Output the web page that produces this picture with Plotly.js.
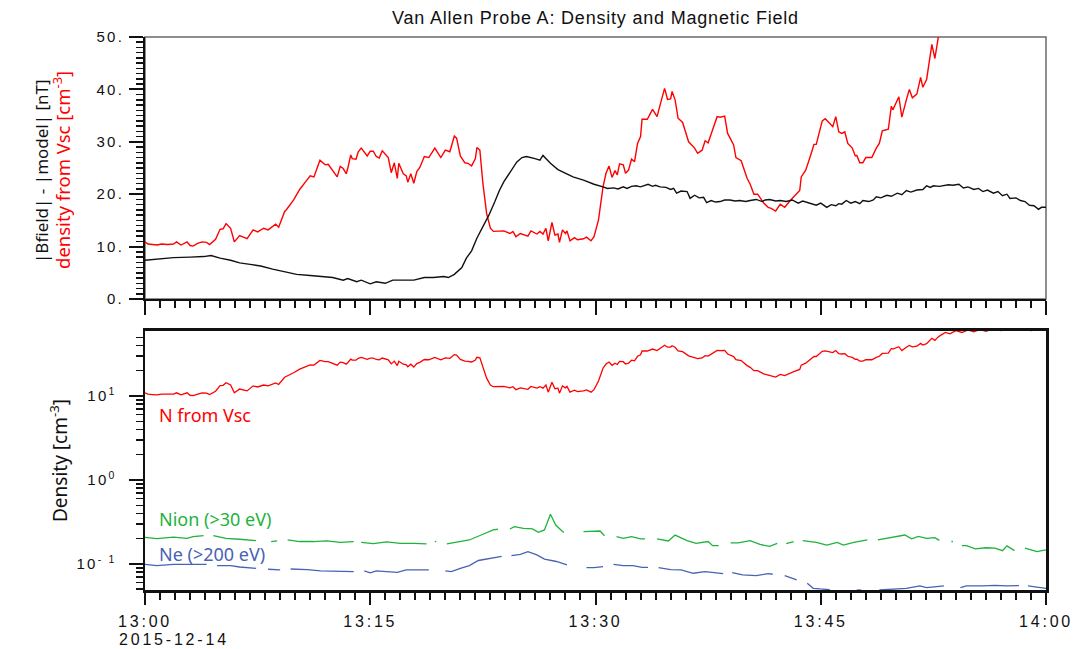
<!DOCTYPE html>
<html><head><meta charset="utf-8">
<script src="https://cdn.plot.ly/plotly-3.0.1.min.js"></script>
<style>
html,body{margin:0;padding:0;background:#fff;}
#chart{width:1087px;height:649px;}
.xtick text, .x2tick text {letter-spacing:2.8px;}
.ytick text, .y2tick text {letter-spacing:2.2px;}
</style></head><body><div id="chart"></div><script>
// minutes after 13:00 UT, 2015-12-14
var tDensity = [0,0.2,0.5,0.8,1.1,1.5,1.9,2.1,2.4,2.8,3.0,3.2,3.5,3.8,4.1,4.3,4.7,5.0,5.2,5.4,5.7,5.95,6.3,6.8,7.2,7.5,7.9,8.2,8.7,8.9,9.3,9.4,9.9,10.3,10.65,11.0,11.25,11.65,12.0,12.2,12.8,13.0,13.2,13.4,13.5,13.7,13.8,14.05,14.2,14.4,14.8,15.0,15.2,15.4,15.6,15.8,16.2,16.4,16.6,16.8,16.9,17.2,17.4,17.5,17.7,17.9,18.1,18.3,18.6,18.9,19.3,19.7,20.0,20.3,20.6,20.75,21.0,21.3,21.5,21.75,22.0,22.1,22.3,22.5,22.75,23.0,23.2,23.9,24.3,24.5,24.7,25.0,25.5,25.7,26.1,26.3,26.5,26.7,26.85,27.1,27.3,27.5,27.6,27.8,28.0,28.1,28.3,28.6,28.8,29.2,29.4,29.7,29.9,30.2,30.5,30.7,30.9,31.1,31.3,31.45,31.6,31.85,32.0,32.2,32.4,32.6,32.8,33.0,33.1,33.45,33.8,34.1,34.3,34.6,34.8,35.0,35.1,35.3,35.5,35.8,36.2,36.6,36.8,37.1,37.3,37.5,37.8,38.1,38.3,38.6,38.8,39.2,39.35,39.7,40.1,40.3,40.55,40.8,41.2,41.5,41.7,42.0,42.3,42.6,43.0,43.2,43.6,43.7,44.0,44.3,44.55,44.7,45.1,45.3,45.6,45.8,46.0,46.2,46.4,46.6,46.8,47.1,47.3,47.4,47.6,47.8,48.0,48.4,48.7,48.9,49.1,49.5,49.7,49.8,50.2,50.4,50.7,50.9,51.1,51.4,51.65,51.8,52.05,52.2,52.4,52.6,52.8,53.0,53.3,53.6,54.0,54.4,54.8,55.2,55.6,56.0,56.5,57.0,57.5,58.0,58.5,59.0,59.5,60.0];
var nVsc = [10.9,10.5,10.4,10.3,10.5,10.4,10.5,10.9,10.3,10.9,10.2,10.1,10.6,10.9,10.8,10.4,11.4,13.3,13.4,14.4,13.5,10.9,12.1,11.5,13.2,12.8,13.5,13.2,14.3,13.7,16.7,17.0,18.9,20.9,22.2,23.5,23.3,26.5,25.6,25.7,23.3,25.3,24.9,23.9,24.9,27.5,26.8,26.7,28.1,28.8,27.3,28.2,28.2,27.2,26.9,28.3,27.0,24.1,26.0,23.0,25.9,23.9,23.5,22.3,23.9,22.1,24.3,25.1,27.2,27.0,28.8,27.0,28.4,28.1,31.1,30.7,27.3,26.0,25.9,25.4,26.8,28.9,28.4,22.1,16.3,13.5,12.9,13.0,12.5,12.9,11.9,12.5,12.0,13.0,12.4,12.9,12.4,13.5,11.1,14.6,12.2,12.4,10.8,13.2,12.5,13.0,11.1,11.7,11.3,11.5,11.8,11.1,11.9,15.1,21.4,24.0,25.4,23.2,24.5,23.7,25.8,25.6,24.0,24.6,26.7,26.2,29.7,31.0,34.3,34.3,36.2,34.8,37.0,40.2,38.1,38.2,39.6,38.0,34.5,33.7,30.0,28.8,27.8,28.4,30.2,29.8,32.3,34.8,34.7,34.9,31.6,29.4,27.0,26.4,23.0,21.9,20.0,20.0,18.3,17.5,17.3,16.8,18.1,17.5,18.9,19.5,20.7,23.3,24.6,27.2,29.5,29.5,34.0,34.4,33.5,32.9,34.8,31.9,31.6,31.9,29.7,28.8,27.3,27.4,26.0,26.0,27.0,27.0,28.8,29.7,32.1,32.4,36.8,36.1,38.6,34.7,38.0,40.0,38.4,39.1,42.3,40.4,41.9,44.7,48.6,45.9,50.2,53,57,55,60,57,61,58,62,59,63,60,64,61,63,60,62,61];

var tBfield = [0,0.7,1.9,3.0,3.9,4.4,5.0,5.7,6.3,7.0,7.7,8.5,9.2,10.1,11.0,11.65,12.5,13.2,13.5,14.1,14.4,15.0,15.4,16.0,16.5,17.2,17.9,18.6,19.2,19.9,20.2,20.6,21.1,21.4,21.75,22.1,22.4,22.9,23.3,23.6,23.9,24.3,24.75,25.1,25.4,25.97,26.3,26.5,27.0,27.5,28.1,28.5,29.2,29.9,30.5,30.8,31.2,31.5,31.85,32.1,32.4,32.7,33.0,33.5,33.8,34.0,34.3,34.7,35.0,35.2,35.4,35.7,36.1,36.3,36.6,36.9,37.2,37.4,37.7,38.0,38.3,38.6,38.95,39.3,39.6,40.0,40.3,40.7,41.1,41.3,41.6,42.0,42.3,42.7,43.1,43.5,43.8,44.1,44.4,44.7,45.0,45.4,45.7,46.0,46.2,46.4,46.7,47.0,47.3,47.6,47.8,48.2,48.5,48.7,49.0,49.4,49.7,50.1,50.4,50.7,51.0,51.4,51.8,52.05,52.3,52.5,52.9,53.2,53.5,53.8,54.2,54.5,54.8,55.2,55.5,55.8,56.1,56.5,56.8,57.1,57.4,57.6,58.0,58.3,58.6,58.9,59.2,59.5,59.7,60];
var dB = [7.4,7.6,7.9,8.0,8.1,8.3,7.8,7.4,6.9,6.6,6.3,5.7,5.2,4.7,4.5,4.3,4.1,3.6,3.9,3.3,3.6,2.9,3.3,3.0,3.6,3.6,3.6,4.1,4.1,4.3,4.1,4.7,6.0,7.8,9.2,11.6,13.3,16.0,18.6,20.7,22.4,24.1,26.1,27.0,27.2,26.8,26.5,27.4,25.9,24.7,23.9,23.3,22.7,21.9,21.4,21.1,21.2,21.0,21.4,21.1,21.5,21.6,21.4,21.9,21.5,21.7,21.4,21.3,20.9,21.1,20.2,20.6,20.5,19.2,19.8,19.3,19.4,18.4,18.8,18.5,18.6,18.9,18.9,18.7,18.8,18.6,18.8,19.0,18.6,18.9,19.0,18.7,18.8,18.6,18.9,18.3,18.7,18.4,18.1,17.9,18.3,17.5,18.0,17.8,18.2,18.1,18.8,18.3,18.6,18.2,18.8,18.6,18.9,19.5,19.3,19.8,19.6,20.2,19.9,20.7,20.4,20.8,20.9,21.6,21.3,21.6,21.5,21.6,21.8,21.7,21.9,21.2,21.4,20.9,21.1,20.5,20.8,20.2,20.5,19.7,20.0,19.2,19.3,18.8,18.6,17.9,17.8,17.1,17.5,17.5];

var tNion = [0,0.78,1.9,2.8,3.2,3.9,4.2,4.55,5.4,6.3,7.4,7.9,8.4,8.8,9.1,9.5,10.3,11.2,12.1,13.0,13.9,14.1,14.4,15.2,16.1,17.0,17.9,18.75,19.0,19.3,19.4,19.7,20.1,21.0,21.6,22.5,23.2,23.5,23.9,24.3,24.6,25.2,25.8,26.2,26.6,27.0,27.35,27.8,27.9,28.5,29.2,29.8,30.3,30.6,31.0,31.4,31.85,32.4,33.0,33.3,33.7,34.1,34.85,35.3,36.1,36.7,37.5,37.8,38.2,38.6,39.0,39.5,40.3,40.95,41.6,42.1,42.4,42.7,43.2,43.5,43.8,44.7,45.4,46.1,46.5,47.2,48.1,48.4,48.8,49.6,50.6,51.05,51.5,52.05,52.6,52.9,53.3,53.7,53.8,54.1,54.4,54.7,55.3,56.0,56.6,57.1,57.4,57.9,58.2,58.6,59.4,59.9,60];
var nIon = [0.207,0.200,0.209,0.202,0.211,0.217,null,0.217,0.202,0.197,0.190,null,0.185,0.188,null,0.193,0.185,0.185,0.188,0.181,0.185,null,0.181,0.175,0.183,0.176,0.176,0.173,null,0.185,0.185,null,0.173,0.185,0.193,0.226,0.254,0.259,null,0.261,0.278,0.266,0.261,0.238,0.254,0.390,0.291,0.243,0.238,null,0.243,0.247,0.247,0.217,null,0.211,0.202,0.211,0.199,0.199,null,0.199,0.188,0.221,0.190,0.176,0.185,0.165,0.165,null,0.178,0.178,0.190,0.171,0.162,0.176,null,0.175,0.185,null,0.190,0.181,0.168,0.181,0.168,0.181,0.193,null,0.193,0.206,0.221,0.199,0.213,0.202,0.206,0.191,null,0.185,0.185,null,0.165,0.165,0.151,0.156,0.154,0.144,0.164,0.144,null,0.154,0.140,0.146,0.146];

var tNe = [0,0.8,1.9,3.0,4.1,4.4,4.8,5.7,6.3,7.4,7.8,8.2,9.0,9.3,9.7,10.8,11.7,12.5,13.2,13.9,14.2,14.6,15.0,15.4,16.1,16.8,17.4,18.1,18.9,19.4,20.0,20.4,21.0,21.6,22.2,23.0,23.75,24.1,24.4,25.0,25.5,26.1,26.6,27.4,28.1,28.6,29.4,29.9,30.5,30.8,31.2,31.85,32.5,33.1,33.5,33.9,34.2,35.0,35.7,36.5,37.3,38.0,38.5,38.8,39.1,39.8,40.7,41.5,41.8,42.2,42.6,43.4,43.8,44.1,44.5,44.95,45.6,46.2,47.4,47.7,48.0,48.9,50.7,51.6,52.05,53.2,53.6,54.3,54.7,55.8,56.6,57.4,58.2,58.6,58.8,59.9,60];
var nE = [0.0991,0.0955,0.0991,0.0991,0.0991,null,0.0955,0.0955,0.0920,0.0887,null,0.0865,0.0849,null,0.0871,0.0857,0.0826,0.0826,0.0826,0.0811,null,0.0826,0.0782,0.0826,0.0811,0.0796,0.0849,0.0849,0.0849,null,0.0826,0.0811,0.0887,0.0955,0.110,0.117,0.123,null,0.126,0.130,0.140,0.128,0.114,0.107,0.0973,null,0.0904,0.0904,0.0929,null,0.0991,0.0955,0.0955,0.0912,0.0912,null,0.0904,0.0857,0.0849,0.0775,0.0811,0.0789,0.0767,null,0.0789,0.0740,0.0727,0.0767,0.0754,null,0.0727,0.0645,null,0.0589,0.0513,0.0504,0.0495,null,0.049,0.049,null,0.049,0.0513,0.0547,0.0523,0.0547,null,0.0523,0.0547,0.0547,0.0557,0.0547,0.0552,null,0.0547,0.0513,0.0513];

var timeTicks = [0,15,30,45,60];
var timeLabels = ['13:00','13:15','13:30','13:45','14:00'];
var dateLabel = '2015-12-14';
var topTicks = [0,10,20,30,40,50];
var topLabels = ['0.','10.','20.','30.','40.','50.'];
var logTicks = [0.1,1,10];
var logLabels = ['10<sup>- 1</sup>','10<sup>0</sup>','10<sup>1</sup>'];
var logMinor = [0.05,0.06,0.07,0.08,0.09,0.2,0.3,0.4,0.5,0.6,0.7,0.8,0.9,2,3,4,5,6,7,8,9,20,30,40,50];

var RED = '#ff0000', GREEN = '#1db33c', BLUE = '#4862b4';
var yTickFont = {family: 'Liberation Sans, Arial, sans-serif', size: 15, color: '#111'};
var xTickFont = {family: 'Liberation Sans, Arial, sans-serif', size: 16, color: '#111'};
var labFont = 'Noto Sans, sans-serif';

var traces = [
  {x: tDensity, y: nVsc, xaxis: 'x', yaxis: 'y', mode: 'lines', line: {color: RED, width: 1.4}, hoverinfo: 'skip'},
  {x: tBfield, y: dB, xaxis: 'x', yaxis: 'y', mode: 'lines', line: {color: '#111', width: 1.4}, hoverinfo: 'skip'},
  {x: tDensity, y: nVsc, xaxis: 'x2', yaxis: 'y2', mode: 'lines', line: {color: RED, width: 1.3}, hoverinfo: 'skip'},
  {x: tNion, y: nIon, xaxis: 'x2', yaxis: 'y2', mode: 'lines', line: {color: GREEN, width: 1.3}, connectgaps: false, hoverinfo: 'skip'},
  {x: tNe, y: nE, xaxis: 'x2', yaxis: 'y2', mode: 'lines', line: {color: BLUE, width: 1.3}, connectgaps: false, hoverinfo: 'skip'}
];

var minorX = {dtick: 1, ticks: 'outside', ticklen: 7, tickwidth: 2, tickcolor: '#111'};
var layout = {
  width: 1087, height: 649,
  margin: {l: 145, r: 41, t: 37, b: 59},
  paper_bgcolor: '#fff', plot_bgcolor: '#fff',
  showlegend: false,
  title: {text: '<span style="letter-spacing:0.8px">Van Allen Probe A: Density and Magnetic Field</span>', font: {family: 'Liberation Sans, Arial, sans-serif', size: 18, color: '#111'},
          x: 0.5, xref: 'paper', xanchor: 'center', y: 1 - 18/649, yref: 'container', yanchor: 'middle'},
  xaxis: {domain: [0, 1], anchor: 'y', range: [0, 60], showgrid: false, zeroline: false,
          showline: true, linecolor: '#111', linewidth: 2,
          tickmode: 'array', tickvals: timeTicks, showticklabels: false,
          ticks: 'outside', ticklen: 14, tickwidth: 2, tickcolor: '#111', minor: minorX},
  yaxis: {domain: [0.5262, 1], anchor: 'x', range: [0, 50], showgrid: false, zeroline: false,
          showline: true, linecolor: '#111', linewidth: 2,
          tickmode: 'array', tickvals: topTicks, ticktext: topLabels, tickfont: yTickFont,
          ticks: 'outside', ticklen: 14, tickwidth: 2, tickcolor: '#111', ticklabelstandoff: 2,
          minor: {dtick: 1, ticks: 'outside', ticklen: 7, tickwidth: 1.5, tickcolor: '#111'}},
  xaxis2: {domain: [0, 1], anchor: 'y2', range: [0, 60], showgrid: false, zeroline: false,
          showline: true, linecolor: '#111', linewidth: 2.5, mirror: true,
          tickmode: 'array', tickvals: timeTicks, ticktext: timeLabels, tickfont: xTickFont,
          ticks: 'outside', ticklen: 12, tickwidth: 2, tickcolor: '#111', ticklabelstandoff: 3, minor: minorX},
  yaxis2: {domain: [0, 0.4684], anchor: 'x2', type: 'log', range: [-1.31, 1.774], showgrid: false, zeroline: false,
          showline: true, linecolor: '#111', linewidth: 2.5, mirror: true,
          tickmode: 'array', tickvals: logTicks, ticktext: logLabels, tickfont: yTickFont,
          ticks: 'outside', ticklen: 14, tickwidth: 2, tickcolor: '#111', ticklabelstandoff: 9,
          minor: {tickvals: logMinor, ticks: 'outside', ticklen: 7, tickwidth: 1.5, tickcolor: '#111'}},
  shapes: [
    {type: 'rect', xref: 'paper', yref: 'paper', x0: 0, x1: 1, y0: 0.5262, y1: 1, line: {color: '#6e6a68', width: 1.5}, layer: 'below'}
  ],
  annotations: [
    {text: '|Bfield| - |model| [nT]', xref: 'paper', yref: 'paper', x: (41-145)/901, y: (590-171)/553, xanchor: 'center', yanchor: 'middle', textangle: -90, showarrow: false, font: {family: labFont, size: 17, color: '#111'}},
    {text: 'density from Vsc [cm<sup>-3</sup>]', xref: 'paper', yref: 'paper', x: (62-145)/901, y: (590-170)/553, xanchor: 'center', yanchor: 'middle', textangle: -90, showarrow: false, font: {family: labFont, size: 18.5, color: RED}},
    {text: 'Density [cm<sup>-3</sup>]', xref: 'paper', yref: 'paper', x: (59-145)/901, y: (590-461)/553, xanchor: 'center', yanchor: 'middle', textangle: -90, showarrow: false, font: {family: labFont, size: 19, color: '#111'}},
    {text: 'N from Vsc', xref: 'paper', yref: 'paper', x: (157-145)/901, y: (590-415)/553, xanchor: 'left', yanchor: 'middle', showarrow: false, font: {family: labFont, size: 18, color: RED}},
    {text: 'Nion (>30 eV)', xref: 'paper', yref: 'paper', x: (157-145)/901, y: (590-519)/553, xanchor: 'left', yanchor: 'middle', showarrow: false, font: {family: labFont, size: 18, color: GREEN}},
    {text: 'Ne (>200 eV)', xref: 'paper', yref: 'paper', x: (157-145)/901, y: (590-554)/553, xanchor: 'left', yanchor: 'middle', showarrow: false, font: {family: labFont, size: 18, color: BLUE}},
    {text: '<span style="letter-spacing:2.8px">' + dateLabel + '</span>', xref: 'paper', yref: 'paper', x: (117-145)/901, y: (590-639)/553, xanchor: 'left', yanchor: 'middle', showarrow: false, font: xTickFont}
  ]
};

Plotly.newPlot('chart', traces, layout, {staticPlot: true, displayModeBar: false});
</script></body></html>
